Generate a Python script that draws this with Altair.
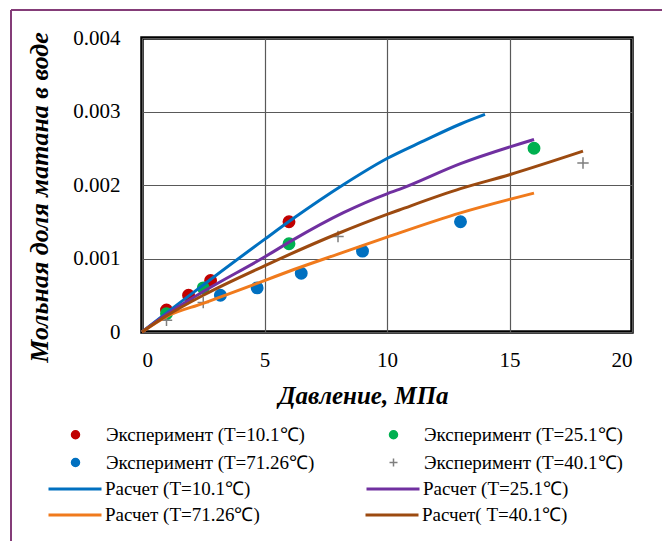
import altair as alt
import pandas as pd

# ---- data ----
exp_labels = ["Эксперимент (T=10.1℃)", "Эксперимент (T=25.1℃)",
              "Эксперимент (T=71.26℃)", "Эксперимент (T=40.1℃)"]
exp10_x = [1.0, 1.9, 2.8, 6.0]
exp10_y = [0.0003, 0.0005, 0.0007, 0.0015]
exp25_x = [1.0, 2.5, 6.0, 16.0]
exp25_y = [0.00025, 0.0006, 0.0012, 0.0025]
exp71_x = [3.2, 4.7, 6.5, 9.0, 13.0]
exp71_y = [0.0005, 0.0006, 0.0008, 0.0011, 0.0015]
exp40_x = [1.0, 2.5, 8.0, 18.0]
exp40_y = [0.00016, 0.0004, 0.0013, 0.0023]

calc_labels = ["Расчет (T=10.1℃)", "Расчет (T=25.1℃)",
               "Расчет (T=71.26℃)", "Расчет( T=40.1℃)"]
calc10_x = [0, 1, 2.5, 5, 6.2, 8.2, 10, 11.5, 13, 14]
calc10_y = [0, 0.00026, 0.00064, 0.00126, 0.00155, 0.0020, 0.00236, 0.0026, 0.00283, 0.00296]
calc25_x = [0, 1, 2.5, 5, 6.2, 8.2, 10, 10.5, 13, 16]
calc25_y = [0, 0.00024, 0.00055, 0.00102, 0.00126, 0.00162, 0.00188, 0.00194, 0.00229, 0.00262]
calc71_x = [0, 1, 2.5, 5, 6.2, 8, 10, 13, 16]
calc71_y = [0, 0.00021, 0.00039, 0.0007, 0.00085, 0.00106, 0.00129, 0.00162, 0.00189]
calc40_x = [0, 1, 2.5, 5, 8, 10, 10.5, 13, 15, 18]
calc40_y = [0, 0.00022, 0.0005, 0.0009, 0.00134, 0.0016, 0.00166, 0.00195, 0.00214, 0.00246]

x_ticks = [0, 5, 10, 15, 20]
y_ticks = [0, 0.001, 0.002, 0.003, 0.004]

exp_colors = ["#C00000", "#00B050", "#0070C0", "#7F7F7F"]
exp_fills = ["#C00000", "#00B050", "#0070C0", "transparent"]
plus_path = "M-1,0H1M0,-1V1"
exp_shapes = ["circle", "circle", "circle", plus_path]
calc_colors = ["#0070C0", "#7030A0", "#F07A1C", "#9C4A10"]

# ---- tables ----
pts = pd.concat([
    pd.DataFrame({"p": xs, "v": ys, "series": lab, "o": i})
    for i, (xs, ys, lab) in enumerate(zip(
        [exp10_x, exp25_x, exp71_x, exp40_x],
        [exp10_y, exp25_y, exp71_y, exp40_y], exp_labels))
])
lines = pd.concat([
    pd.DataFrame({"p": xs, "v": ys, "calc": lab, "o": i})
    for i, (xs, ys, lab) in enumerate(zip(
        [calc10_x, calc25_x, calc71_x, calc40_x],
        [calc10_y, calc25_y, calc71_y, calc40_y], calc_labels))
])

FONT = "Liberation Serif"

xenc = alt.X("p:Q", scale=alt.Scale(domain=[0, 20], nice=False),
             axis=alt.Axis(values=x_ticks, format="d", title="Давление, МПа",
                           grid=True, ticks=False, domain=False,
                           labelPadding=17, labelFontSize=21,
                           titleFontSize=25, titleFontStyle="italic",
                           titleFontWeight="bold", titleX=221, titleY=63,
                           titleBaseline="middle", titleAlign="center"))
yenc = alt.Y("v:Q", scale=alt.Scale(domain=[0, 0.004], nice=False),
             axis=alt.Axis(values=y_ticks, format="~f", title="Мольная доля матана в воде",
                           grid=True, ticks=False, domain=False,
                           labelPadding=22, labelFontSize=21,
                           titleFontSize=26, titleFontStyle="italic",
                           titleFontWeight="bold", titleX=-103, titleY=159,
                           titleBaseline="middle", titleAlign="center", titleAngle=270))

shared_leg = dict(orient="none", columns=2, direction="horizontal", title=None,
                  padding=0, labelLimit=400)

pt_legend = alt.Legend(legendX=-76, legendY=387, columnPadding=69, rowPadding=8,
                       symbolSize=64, labelOffset=21, symbolStrokeWidth=1.5,
                       **shared_leg)

point_layer = alt.Chart(pts).mark_point(size=130, strokeWidth=1.5, opacity=1).encode(
    x=xenc, y=yenc,
    fill=alt.Fill("series:N", scale=alt.Scale(domain=exp_labels, range=exp_fills), legend=pt_legend),
    stroke=alt.Stroke("series:N", scale=alt.Scale(domain=exp_labels, range=exp_colors), legend=pt_legend),
    shape=alt.Shape("series:N", scale=alt.Scale(domain=exp_labels, range=exp_shapes), legend=pt_legend),
    order="o:Q",
)


def line_part(labels, colors, legend_y, col_pad):
    leg = alt.Legend(legendX=-95, legendY=legend_y, columnPadding=col_pad,
                     symbolType="stroke", symbolSize=2809, symbolStrokeWidth=3,
                     labelOffset=2, **shared_leg)
    return alt.Chart(lines[lines["calc"].isin(labels)]).mark_line(
        strokeWidth=3, interpolate="monotone").encode(
        x="p:Q", y="v:Q",
        color=alt.Color("calc:N", scale=alt.Scale(domain=labels, range=colors), legend=leg),
        order="p:Q",
    )


line_a = line_part(calc_labels[:2], calc_colors[:2], 423, 109)
line_b = line_part(calc_labels[2:], calc_colors[2:], 449, 99)

frame = pd.DataFrame({"k": [0]})
border_left = alt.Chart(frame).mark_rule(color="#843C78", strokeWidth=2).encode(
    x=alt.value(-131), y=alt.value(-28), y2=alt.value(520))
border_top = alt.Chart(frame).mark_rule(color="#843C78", strokeWidth=2).encode(
    x=alt.value(-131), x2=alt.value(540), y=alt.value(-28))

chart = alt.layer(point_layer, line_a, line_b, border_left, border_top).resolve_scale(
    color="independent", fill="independent", stroke="independent", shape="independent"
).properties(
    width=490, height=294,
    autosize=alt.AutoSizeParams(type="none"),
    padding={"left": 142, "top": 38, "right": 30, "bottom": 209},
).configure(font=FONT).configure_axis(
    labelFont=FONT, titleFont=FONT, labelColor="#000000", titleColor="#000000",
    gridColor="#595959", gridWidth=1.2, gridOpacity=1,
).configure_legend(
    labelFont=FONT, labelFontSize=19, labelColor="#000000",
).configure_view(stroke="#000000", strokeWidth=3.5)

chart.save("out.html", embed_options={"renderer": "svg", "actions": False})
